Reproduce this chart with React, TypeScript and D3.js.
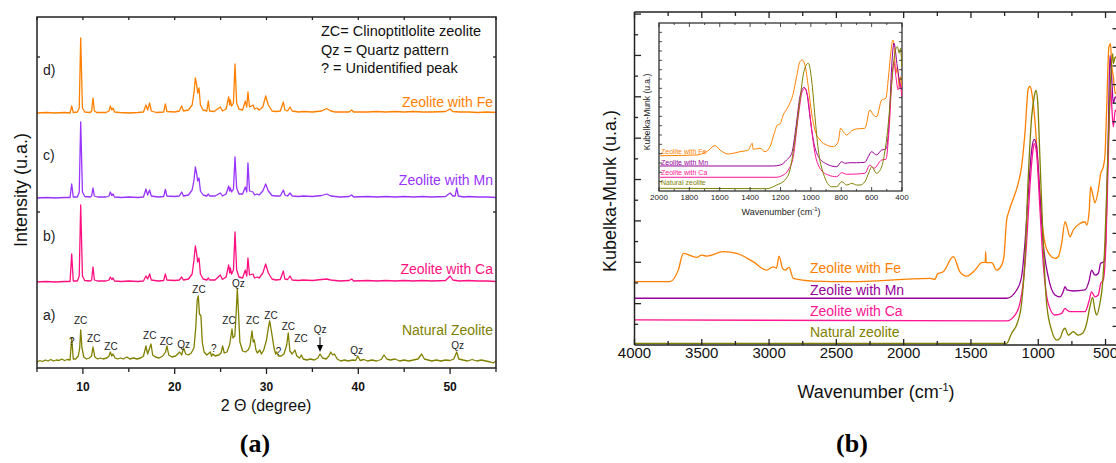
import * as d3 from "d3"

type Pt = [number, number]

const FONT = "'Liberation Sans', Arial, sans-serif"

// ---------------- (a) XRD patterns ----------------
const xrdTicks = [10, 20, 30, 40, 50]
const xrdMinorTicks = [5, 15, 25, 35, 45, 55]
const xrdYTicks = [156, 311]
const xrdNames = ["Natural Zeolite", "Zeolite with Ca", "Zeolite with Mn", "Zeolite with Fe"]
const xrdLetters = ["a)", "b)", "c)", "d)"]
const xrdOffsets = [6, 86, 170, 255]
const xrdColors = ["#808000", "#ff0f80", "#9933ff", "#ff8000"]

const xrdNatural: Pt[] = [
  [5.0, 0], [5.3, 1.5], [5.6, 0.5], [5.9, 2], [6.2, 1], [6.5, 2.5], [6.8, 1], [7.1, 2], [7.4, 1.5], [7.7, 3], [8.0, 1.5], [8.3, 2.5], [8.6, 2],
  [8.78, 24], [8.95, 3], [9.2, 3], [9.5, 6], [9.65, 14], [9.76, 32], [9.9, 14], [10.1, 5], [10.4, 3], [10.7, 4], [10.95, 6], [11.1, 15], [11.3, 5],
  [11.6, 3], [11.9, 4], [12.2, 3], [12.6, 4], [12.85, 6], [12.99, 10], [13.15, 6], [13.28, 8], [13.5, 4], [13.8, 3], [14.1, 4], [14.4, 3], [14.8, 5],
  [15.1, 3], [15.5, 4], [15.9, 3], [16.3, 4], [16.6, 6], [16.87, 16], [17.05, 8], [17.2, 12], [17.42, 18], [17.6, 7], [17.9, 5], [18.3, 4], [18.7, 6],
  [19.0, 10], [19.16, 16], [19.35, 7], [19.7, 5], [20.1, 6], [20.54, 10], [20.75, 7], [20.98, 14], [21.2, 8], [21.5, 7], [21.8, 9], [22.1, 14],
  [22.3, 35], [22.45, 62], [22.57, 66], [22.7, 48], [22.86, 46], [23.0, 20], [23.2, 10], [23.5, 7], [23.88, 10], [24.0, 6], [24.17, 8], [24.4, 6],
  [24.8, 7], [25.05, 9], [25.22, 16], [25.4, 9], [25.7, 10], [26.0, 18], [26.24, 33], [26.35, 24], [26.42, 25], [26.55, 26], [26.7, 50], [26.82, 73],
  [26.95, 50], [27.1, 20], [27.4, 11], [27.7, 10], [28.0, 12], [28.2, 16], [28.42, 31], [28.55, 20], [28.67, 22], [28.85, 12], [29.0, 9], [29.26, 12],
  [29.45, 8], [29.7, 12], [30.0, 22], [30.2, 34], [30.35, 41], [30.55, 30], [30.8, 15], [31.0, 8], [31.1, 10], [31.3, 6], [31.6, 6], [31.9, 8],
  [32.2, 17], [32.37, 29], [32.55, 11], [32.8, 8], [33.1, 12], [33.3, 6], [33.6, 4], [33.8, 7], [34.0, 3], [34.4, 2], [34.8, 3], [35.2, 2],
  [35.6, 4], [35.83, 8], [36.1, 4], [36.5, 3], [36.8, 6], [37.0, 10], [37.2, 7], [37.4, 8], [37.7, 3], [38.1, 1], [38.5, 2], [38.9, 1],
  [39.4, 2], [39.7, 1.5], [39.94, 6], [40.2, 1.5], [40.6, 2.5], [41.0, 1], [41.5, 2], [42.0, 1], [42.5, 2.5], [42.8, 7], [43.1, 3], [43.5, 2],
  [44.0, 3], [44.5, 1], [45.0, 2], [45.5, 1], [46.0, 2], [46.5, 3], [46.9, 8], [47.2, 3], [47.6, 2], [48.0, 1], [48.5, 2], [49.0, 1], [49.5, 2],
  [50.0, 1.5], [50.4, 3], [50.72, 10], [50.95, 3], [51.4, 2], [51.9, 1], [52.4, 2.5], [52.9, 1], [53.4, 2], [53.9, 1], [54.4, 0], [54.7, -1], [55.0, 1],
]

const xrdCa: Pt[] = [
  [5, 0], [6, 0.5], [7, 0], [8, 0.5], [8.6, 0.5], [8.78, 28], [8.95, 1], [9.4, 1], [9.6, 6], [9.76, 77], [9.95, 6], [10.2, 1.5], [10.8, 1],
  [10.95, 2], [11.1, 15], [11.25, 2], [11.6, 1], [12.5, 1], [12.85, 2], [12.99, 5], [13.15, 2.5], [13.28, 4], [13.45, 1], [14.2, 0.5], [15, 1],
  [16, 0.5], [16.6, 1], [16.87, 6], [17.05, 3], [17.27, 8], [17.45, 2], [18.2, 1], [18.8, 1.5], [18.98, 8], [19.15, 2], [20, 1.5], [20.5, 2],
  [20.76, 5], [20.95, 2], [21.5, 3], [21.9, 8], [22.1, 22], [22.25, 36], [22.4, 28], [22.5, 20], [22.65, 24], [22.8, 8], [23.1, 3], [23.5, 2],
  [23.66, 4], [23.8, 2], [24.4, 2], [24.97, 7], [25.2, 2.5], [25.6, 5], [25.88, 17], [26.0, 9], [26.06, 14], [26.2, 8], [26.4, 12], [26.57, 50],
  [26.75, 12], [27.0, 5], [27.4, 4], [27.69, 12], [27.85, 6], [27.98, 24], [28.15, 7], [28.53, 8], [28.7, 4], [28.97, 5], [29.2, 4], [29.6, 9],
  [29.91, 18], [30.2, 9], [30.6, 3], [31, 2], [31.5, 2.5], [31.84, 11], [32.0, 3], [32.3, 2.5], [32.56, 6], [32.8, 2], [33.5, 1.5], [34, 2],
  [35, 1.5], [36, 2.5], [36.56, 3], [37, 2], [37.5, 1.5], [38, 1], [39, 1.5], [39.28, 3], [39.5, 1], [41, 1.5], [42, 1], [43, 1.5], [44, 1],
  [45, 1.5], [46, 1], [47, 1.5], [48, 1], [49.5, 1.5], [50.0, 6], [50.3, 2], [51, 1], [52, 1.5], [53, 1], [54, 1], [55, 0.5],
]

const xrdMn: Pt[] = [
  [5, 0], [6, 0.5], [7, 0], [8, 0.5], [8.6, 0.5], [8.78, 14], [8.95, 1], [9.4, 1], [9.6, 6], [9.76, 76], [9.95, 6], [10.2, 1.5], [10.8, 1],
  [10.95, 2], [11.1, 10], [11.25, 2], [11.6, 1], [12.5, 1], [12.85, 2], [12.99, 6], [13.15, 2.5], [13.28, 4], [13.45, 1], [14.2, 0.5], [15, 1],
  [16, 0.5], [16.6, 1], [16.87, 9], [17.05, 3], [17.27, 8], [17.45, 2], [18.2, 1], [18.8, 1.5], [18.98, 8.5], [19.15, 2], [20, 1.5], [20.5, 2],
  [20.76, 6], [20.95, 2], [21.5, 3], [21.9, 8], [22.1, 18], [22.25, 31], [22.4, 24], [22.5, 17], [22.65, 20], [22.8, 7], [23.1, 3], [23.5, 2],
  [23.66, 4], [23.8, 2], [24.4, 2], [24.97, 5], [25.2, 2], [25.6, 4], [25.88, 12], [26.0, 7], [26.06, 10], [26.2, 6], [26.4, 9], [26.57, 41],
  [26.75, 10], [27.0, 4], [27.4, 4], [27.69, 11], [27.85, 6], [27.98, 35], [28.15, 7], [28.53, 6], [28.7, 3], [28.97, 4], [29.2, 3], [29.6, 7],
  [29.91, 14], [30.2, 7], [30.6, 2.5], [31, 2], [31.5, 2], [31.84, 8], [32.0, 3], [32.3, 2], [32.56, 5], [32.8, 2], [33.5, 1.5], [34, 2],
  [35, 1.5], [36, 2.5], [36.56, 4], [37, 2], [37.5, 1.5], [38, 1], [39, 1.5], [39.28, 3], [39.5, 1], [41, 1.5], [42, 1], [43, 1.5], [44, 1],
  [45, 1.5], [46, 1], [47, 1.5], [48, 1], [49.5, 1.5], [50.0, 5], [50.3, 2], [50.55, 2], [50.72, 10], [50.9, 2], [51.5, 1], [52, 1.5], [53, 1],
  [54, 1], [55, 0.5],
]

const xrdFe: Pt[] = [
  [5, 0], [6, 0.5], [7, 0], [8, 0.5], [8.6, 0], [8.78, 7], [8.95, 0.5], [9.4, 1], [9.6, 5], [9.76, 75], [9.95, 5], [10.2, 1], [10.8, 0.5],
  [10.95, 2], [11.1, 15], [11.25, 2], [11.5, 0.5], [12.5, 0.5], [12.85, 2], [12.99, 7], [13.15, 3], [13.28, 5], [13.45, 1], [14, 0.5], [15, 0],
  [16, 0.5], [16.6, 1], [16.87, 8], [17.05, 3], [17.27, 10], [17.45, 2], [18, 0.5], [18.8, 1], [18.98, 9], [19.15, 1.5], [20, 1], [20.5, 2],
  [20.76, 7], [20.95, 2], [21.5, 3], [21.9, 8], [22.1, 20], [22.25, 35], [22.4, 28], [22.5, 20], [22.65, 25], [22.8, 8], [23.1, 3], [23.5, 2],
  [23.66, 12], [23.8, 2], [24.3, 1.5], [24.97, 6], [25.2, 2], [25.6, 4], [25.88, 16], [26.0, 8], [26.06, 13], [26.2, 7], [26.4, 10], [26.57, 49],
  [26.75, 10], [27.0, 4], [27.4, 3], [27.69, 12], [27.85, 6], [27.98, 21], [28.15, 6], [28.53, 8], [28.7, 4], [28.97, 5], [29.2, 3], [29.6, 6],
  [29.91, 17], [30.2, 8], [30.6, 2], [31, 1.5], [31.5, 2], [31.84, 11], [32.0, 3], [32.3, 2], [32.56, 6], [32.8, 2], [33.5, 1], [34, 1.5],
  [35, 1], [36, 2], [36.56, 4.5], [37, 2], [37.5, 1], [38, 1], [39, 1], [39.28, 3], [39.5, 1], [41, 1], [42, 1.5], [43, 1], [44, 1.5], [45, 1],
  [46, 1.5], [47, 1], [48, 1], [49.5, 1.5], [50.0, 4], [50.3, 1.5], [51, 1], [52, 1], [53, 0.5], [54, 1], [55, 0.5],
]

// [2θ, intensity, label] for the natural zeolite pattern
const xrdPeakLabels: [number, number, string][] = [
  [8.78, 23, "?"], [9.76, 44, "ZC"], [11.18, 26, "ZC"], [13.06, 18, "ZC"], [17.28, 29, "ZC"], [19.09, 23, "ZC"],
  [20.98, 20, "Qz"], [22.65, 75, "ZC"], [24.25, 16, "?"], [25.92, 44, "ZC"], [26.93, 81, "Qz"], [28.5, 44, "ZC"],
  [30.49, 49, "ZC"], [31.31, 13, "?"], [32.38, 38, "ZC"], [33.76, 26, "ZC"], [35.83, 35, "Qz"], [39.83, 14, "Qz"],
  [50.83, 19, "Qz"],
]
const qzArrow = [35.83, 31, 16]

const xrdLegend = ["ZC= Clinoptitlolite zeolite", "Qz = Quartz pattern", "? = Unidentified peak"]

// ---------------- (b) Kubelka-Munk spectra ----------------
const wnTicks = [4000, 3500, 3000, 2500, 2000, 1500, 1000, 500]
const kmNames = ["Zeolite with Fe", "Zeolite with Mn", "Zeolite with Ca", "Natural zeolite"]
const kmColors = ["#ff8000", "#990099", "#ff1493", "#808000"]

const kmFe: Pt[] = [
  [4000, 3.06], [3736, 3.06], [3675, 3.62], [3637, 4.43], [3538, 4.24], [3501, 4.35], [3463, 4.3], [3340, 4.51], [3241, 4.43],
  [3117, 4.02], [3018, 3.62], [2970, 3.78], [2945, 3.71], [2926, 4.3], [2900, 3.71], [2880, 3.62], [2852, 3.75], [2820, 3.22],
  [2672, 3.09], [2399, 3.06], [1805, 3.22], [1767, 3.17], [1750, 3.43], [1706, 3.54], [1631, 4.27], [1582, 3.54], [1532, 3.33],
  [1470, 3.62], [1420, 3.98], [1394, 4.0], [1391, 4.51], [1387, 3.98], [1346, 3.98], [1309, 3.62], [1272, 3.86], [1255, 4.27],
  [1235, 6.04], [1223, 6.36], [1198, 6.85], [1149, 7.81], [1124, 8.61], [1099, 10.23], [1074, 12.4], [1062, 12.51], [1049, 12.24],
  [1025, 10.87], [1000, 8.45], [975, 6.2], [950, 4.91], [913, 4.35], [876, 4.19], [851, 4.27], [826, 4.91], [801, 5.96], [786, 5.71],
  [764, 5.23], [740, 5.56], [690, 5.88], [653, 5.96], [640, 5.8], [621, 6.52], [611, 7.65], [591, 7.16], [579, 6.87], [554, 7.49],
  [536, 8.29], [517, 8.61], [505, 9.1], [492, 11.35], [475, 14.41], [463, 14.57], [455, 13.61], [442, 12.96], [428, 12.16], [405, 12.5],
]
const kmMn: Pt[] = [
  [4000, 2.26], [1235, 2.26], [1160, 2.66], [1124, 3.3], [1099, 4.91], [1074, 7.33], [1049, 9.42], [1030, 9.94], [1012, 9.58],
  [987, 7.16], [963, 4.91], [926, 3.3], [876, 2.42], [839, 2.33], [815, 2.57], [801, 2.82], [786, 2.66], [740, 2.61], [653, 2.66],
  [621, 3.14], [604, 3.62], [579, 3.38], [554, 3.46], [536, 3.95], [512, 4.02], [500, 4.91], [481, 9.74], [467, 14.0], [455, 12.96],
  [442, 11.68], [428, 12.0], [405, 11.5],
]
const kmCa: Pt[] = [
  [4000, 1.21], [1235, 1.17], [1173, 1.45], [1136, 2.01], [1112, 2.98], [1087, 4.91], [1062, 7.65], [1042, 9.26], [1030, 9.74],
  [1012, 9.26], [987, 6.52], [963, 3.95], [926, 2.01], [876, 1.45], [826, 1.53], [801, 1.77], [786, 1.69], [764, 1.61], [653, 1.61],
  [621, 2.17], [604, 2.57], [579, 2.33], [554, 2.42], [536, 2.98], [517, 3.14], [497, 4.91], [477, 9.74], [463, 12.48], [455, 11.68],
  [442, 10.55], [428, 11.35], [405, 11.0],
]
const kmNatural: Pt[] = [
  [4000, 0.08], [1235, 0.08], [1198, 0.57], [1156, 1.05], [1124, 2.01], [1099, 4.11], [1074, 8.13], [1049, 11.03], [1030, 12.0],
  [1017, 12.32], [1005, 11.84], [987, 8.94], [963, 4.91], [938, 2.01], [901, 0.72], [863, 0.24], [839, 0.32], [815, 0.72], [801, 0.81],
  [777, 0.48], [740, 0.64], [703, 0.48], [670, 0.57], [640, 1.05], [616, 1.85], [596, 2.3], [579, 1.69], [567, 1.45], [542, 2.01],
  [522, 2.98], [505, 4.91], [484, 8.94], [467, 12.16], [447, 14.09], [442, 13.61], [428, 13.93], [405, 13.5],
]

// inset (2000-400 cm-1)
const insetTicks = [2000, 1800, 1600, 1400, 1200, 1000, 800, 600, 400]
const insetFe: Pt[] = [
  [1993, 3.78], [1752, 3.86], [1686, 4.21], [1631, 4.86], [1598, 4.39], [1544, 3.97], [1467, 4.21], [1412, 4.39], [1386, 5.11],
  [1380, 4.47], [1335, 4.58], [1302, 4.21], [1269, 4.75], [1241, 6.18], [1221, 7.07], [1203, 7.18], [1182, 8.15], [1149, 9.04],
  [1116, 10.47], [1094, 12.25], [1072, 13.86], [1057, 14.04], [1039, 13.5], [1017, 11.18], [995, 8.33], [973, 6.54], [940, 5.47],
  [896, 4.93], [852, 4.75], [820, 5.28], [804, 6.72], [787, 6.36], [764, 6.0], [731, 6.46], [699, 6.65], [644, 6.72], [611, 8.68],
  [589, 8.15], [567, 7.96], [534, 9.75], [506, 9.94], [490, 12.08], [474, 14.76], [461, 16.18], [453, 15.65], [440, 12.62],
  [431, 13.32], [418, 11.18], [409, 12.25], [402, 10.47],
]
const insetMn: Pt[] = [
  [1993, 2.68], [1248, 2.68], [1200, 2.79], [1160, 3.32], [1126, 4.04], [1098, 6.89], [1072, 10.11], [1046, 11.11], [1029, 10.64],
  [1006, 7.96], [984, 5.47], [951, 3.69], [896, 2.89], [830, 2.6], [797, 3.14], [776, 2.97], [743, 3.03], [700, 3.03], [644, 3.08],
  [622, 3.68], [600, 4.21], [567, 3.86], [534, 4.39], [506, 4.5], [484, 7.61], [468, 13.32], [453, 15.83], [431, 13.32], [418, 11.9],
  [402, 10.83],
]
const insetCa: Pt[] = [
  [1993, 1.47], [1230, 1.47], [1182, 1.71], [1149, 2.25], [1116, 3.68], [1083, 7.96], [1057, 10.64], [1039, 11.0], [1017, 9.75],
  [995, 6.54], [973, 4.04], [940, 2.43], [885, 1.71], [830, 1.53], [797, 1.96], [764, 1.79], [699, 1.82], [644, 1.9], [611, 2.79],
  [585, 2.43], [534, 3.32], [506, 3.4], [484, 6.89], [468, 11.54], [453, 13.86], [440, 12.25], [425, 10.83], [412, 11.54], [402, 10.11],
]
const insetNatural: Pt[] = [
  [1993, 0.29], [1291, 0.25], [1225, 0.64], [1171, 1.18], [1138, 2.25], [1105, 5.47], [1072, 9.75], [1046, 12.79], [1017, 13.69],
  [995, 11.9], [973, 7.96], [951, 4.39], [918, 1.9], [863, 0.46], [830, 0.46], [797, 1.0], [764, 0.64], [731, 0.82], [699, 0.64],
  [677, 0.64], [644, 1.0], [616, 2.07], [600, 2.6], [567, 1.9], [534, 2.6], [513, 4.21], [490, 7.26], [468, 11.54], [447, 14.76],
  [431, 15.47], [418, 14.76], [409, 15.29], [402, 13.32],
]

// ---------------- drawing ----------------
const XrdPanel = () => {
  const x = d3.scaleLinear().domain([5, 55]).range([37, 496])
  const y = d3.scaleLinear().domain([0, 351]).range([368, 17])
  const patterns = [xrdNatural, xrdCa, xrdMn, xrdFe]
  const nameY = [335, 274, 185, 107]
  const letterY = [320, 241, 159.5, 74.5]

  return (
    <g fontFamily={FONT}>
      {patterns.map((data, i) => {
        const line = d3.line<Pt>().x(d => x(d[0])).y(d => y(d[1] + xrdOffsets[i]))
        return <path key={i} d={line(data) || ""} fill="none" stroke={xrdColors[i]} strokeWidth={1.3} strokeLinejoin="round" />
      })}
      {xrdNames.map((n, i) => (
        <text key={n} x={493} y={nameY[i]} textAnchor="end" fontSize={14} fill={xrdColors[i]}>{n}</text>
      ))}
      {xrdLetters.map((l, i) => (
        <text key={l} x={43} y={letterY[i]} fontSize={14} fill="#222">{l}</text>
      ))}
      {xrdPeakLabels.map(([t, v, s], i) => (
        <text key={i} x={x(t)} y={y(v)} textAnchor="middle" fontSize={10} fill="#222">{s}</text>
      ))}
      <line x1={x(qzArrow[0])} x2={x(qzArrow[0])} y1={y(qzArrow[1])} y2={y(qzArrow[2]) - 6} stroke="#000" strokeWidth={1} />
      <path d={`M${x(qzArrow[0]) - 3},${y(qzArrow[2]) - 7}L${x(qzArrow[0]) + 3},${y(qzArrow[2]) - 7}L${x(qzArrow[0])},${y(qzArrow[2])}Z`} fill="#000" />
      {xrdLegend.map((s, i) => (
        <text key={s} x={321} y={36 + i * 18.5} fontSize={14.5} fill="#111">{s}</text>
      ))}

      {/* frame and ticks */}
      <rect x={37} y={17} width={459} height={351} fill="none" stroke="#222" strokeWidth={1.5} />
      {[...xrdTicks, ...xrdMinorTicks].map(t => (
        <g key={t}>
          <line x1={x(t)} x2={x(t)} y1={368} y2={xrdTicks.includes(t) ? 374 : 372} stroke="#222" strokeWidth={1.3} />
          <line x1={x(t)} x2={x(t)} y1={17} y2={20} stroke="#222" strokeWidth={1.3} />
        </g>
      ))}
      {xrdYTicks.map(v => (
        <g key={v}>
          <line x1={37} x2={40} y1={y(v)} y2={y(v)} stroke="#222" strokeWidth={1.3} />
          <line x1={496} x2={493} y1={y(v)} y2={y(v)} stroke="#222" strokeWidth={1.3} />
        </g>
      ))}
      {xrdTicks.map(t => (
        <text key={t} x={x(t)} y={391} textAnchor="middle" fontSize={12} fontWeight="bold" fill="#111">{t}</text>
      ))}
      <text x={266} y={411} textAnchor="middle" fontSize={16} fill="#111">2 Θ (degree)</text>
      <text transform="translate(27,190) rotate(-90)" textAnchor="middle" fontSize={18} fill="#111">Intensity (u.a.)</text>
      <text x={255} y={452} textAnchor="middle" fontSize={26} fontWeight="bold" fontFamily="'Liberation Serif', 'Times New Roman', serif">(a)</text>
    </g>
  )
}

const Inset = () => {
  const x = d3.scaleLinear().domain([2000, 400]).range([659, 902])
  const y = d3.scaleLinear().domain([0, 18]).range([191, 23])
  const spectra = [insetFe, insetMn, insetCa, insetNatural]
  const nameY = [154, 165, 175, 185]
  const minor = d3.range(2000, 399, -100)
  return (
    <g fontFamily={FONT}>
      <rect x={659} y={23} width={243} height={168} fill="#fff" stroke="#222" strokeWidth={1.2} />
      {spectra.map((data, i) => {
        const line = d3.line<Pt>().x(d => x(d[0])).y(d => y(d[1])).curve(d3.curveMonotoneX)
        return <path key={i} d={line(data) || ""} fill="none" stroke={kmColors[i]} strokeWidth={1} />
      })}
      {kmNames.map((n, i) => (
        <text key={n} x={661} y={nameY[i]} fontSize={7} fill={kmColors[i]}>{n}</text>
      ))}
      {minor.map(t => (
        <g key={t}>
          <line x1={x(t)} x2={x(t)} y1={191} y2={t % 200 === 0 ? 187 : 189} stroke="#222" strokeWidth={0.8} />
          <line x1={x(t)} x2={x(t)} y1={23} y2={t % 200 === 0 ? 27 : 25} stroke="#222" strokeWidth={0.8} />
        </g>
      ))}
      {y.ticks(18).filter(v => v > 0 && v < 18).map(v => (
        <g key={v}>
          <line x1={659} x2={662} y1={y(v)} y2={y(v)} stroke="#222" strokeWidth={0.8} />
          <line x1={902} x2={899} y1={y(v)} y2={y(v)} stroke="#222" strokeWidth={0.8} />
        </g>
      ))}
      {insetTicks.map(t => (
        <text key={t} x={x(t)} y={200} textAnchor="middle" fontSize={8} fill="#222">{t}</text>
      ))}
      <text x={781} y={215} textAnchor="middle" fontSize={9} fill="#222">
        Wavenumber (cm<tspan dy={-4} fontSize={6}>-1</tspan><tspan dy={4}>)</tspan>
      </text>
      <text transform="translate(650,112) rotate(-90)" textAnchor="middle" fontSize={8.5} fill="#222">Kubelka-Munk (u.a.)</text>
    </g>
  )
}

const KmPanel = () => {
  const x = d3.scaleLinear().domain([4000, 400]).range([634.5, 1119])
  const y = d3.scaleLinear().domain([0, 16.1]).range([345, 12])
  const y2 = d3.scaleLinear().domain([0, 17.9]).range([345, 12])
  const spectra = [kmFe, kmMn, kmCa, kmNatural]
  const nameY = [273, 295, 316, 337]
  const minor = d3.range(4000, 399, -250)

  return (
    <g fontFamily={FONT}>
      {spectra.map((data, i) => {
        const line = d3.line<Pt>().x(d => x(d[0])).y(d => y(d[1])).curve(d3.curveMonotoneX)
        return <path key={i} d={line(data) || ""} fill="none" stroke={kmColors[i]} strokeWidth={1.3} />
      })}
      {kmNames.map((n, i) => (
        <text key={n} x={810} y={nameY[i]} fontSize={14} fill={kmColors[i]}>{n}</text>
      ))}

      <line x1={634.5} x2={1116} y1={345} y2={345} stroke="#222" strokeWidth={1.5} />
      <line x1={634.5} x2={1116} y1={12} y2={12} stroke="#222" strokeWidth={1.5} />
      <line x1={634.5} x2={634.5} y1={12} y2={345} stroke="#222" strokeWidth={1.5} />
      {minor.map(t => (
        <g key={t}>
          <line x1={x(t)} x2={x(t)} y1={345} y2={t % 500 === 0 ? 339 : 341} stroke="#222" strokeWidth={1.3} />
          <line x1={x(t)} x2={x(t)} y1={12} y2={t % 500 === 0 ? 18 : 16} stroke="#222" strokeWidth={1.3} />
        </g>
      ))}
      {d3.range(1, 17).map(v => (
        <line key={v} x1={634.5} x2={v % 2 === 0 ? 641 : 638} y1={y(v)} y2={y(v)} stroke="#222" strokeWidth={1.3} />
      ))}
      {d3.range(1, 18).map(v => (
        <line key={v} x1={1119} x2={1112.5} y1={y2(v)} y2={y2(v)} stroke="#222" strokeWidth={1.3} />
      ))}
      {wnTicks.map(t => (
        <text key={t} x={x(t)} y={358} textAnchor="middle" fontSize={15} fill="#111">{t}</text>
      ))}
      <text x={876} y={398} textAnchor="middle" fontSize={18} fill="#111">
        Wavenumber (cm<tspan dy={-7} fontSize={11}>-1</tspan><tspan dy={7}>)</tspan>
      </text>
      <text transform="translate(616,191) rotate(-90)" textAnchor="middle" fontSize={18} fill="#111">Kubelka-Munk (u.a.)</text>
      <text x={852} y={452} textAnchor="middle" fontSize={26} fontWeight="bold" fontFamily="'Liberation Serif', 'Times New Roman', serif">(b)</text>
      <Inset />
    </g>
  )
}

export default function App() {
  return (
    <svg width={1116} height={463} style={{ position: "absolute", left: 0, top: 0, background: "#fff" }}>
      <rect width={1116} height={463} fill="#fff" />
      <XrdPanel />
      <KmPanel />
    </svg>
  )
}
